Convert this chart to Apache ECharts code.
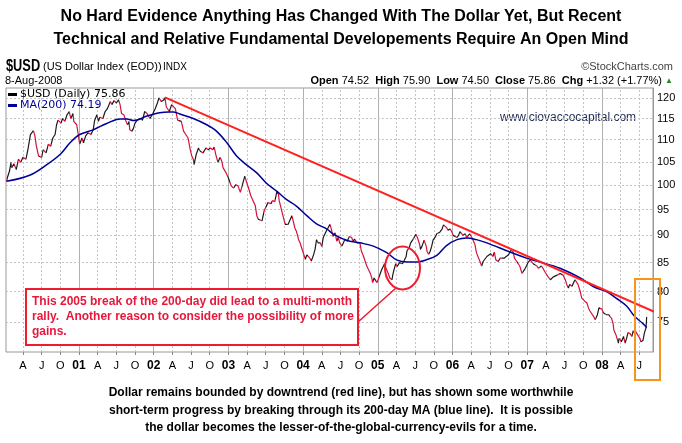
<!DOCTYPE html>
<html>
<head>
<meta charset="utf-8">
<script src="https://cdn.jsdelivr.net/npm/echarts@6/dist/echarts.min.js"></script>
<style>
  html, body { margin: 0; padding: 0; background: #fff; }
  #main { width: 682px; height: 443px; }
</style>
</head>
<body>
<div id="main"></div>
<script>
// $USD daily close (dates as decimal years)
const usdDates = [
  2000.03, 2000.04, 2000.07, 2000.09, 2000.10, 2000.13, 2000.16, 2000.19, 2000.22, 2000.25,
  2000.29, 2000.32, 2000.35, 2000.39, 2000.41, 2000.43, 2000.46, 2000.48, 2000.50, 2000.52,
  2000.56, 2000.59, 2000.62, 2000.65, 2000.68, 2000.70, 2000.72, 2000.76, 2000.78, 2000.81,
  2000.84, 2000.87, 2000.89, 2000.92, 2000.93, 2000.97, 2000.99, 2001.01, 2001.04, 2001.06,
  2001.09, 2001.12, 2001.16, 2001.19, 2001.21, 2001.24, 2001.26, 2001.28, 2001.32, 2001.35,
  2001.38, 2001.42, 2001.44, 2001.47, 2001.50, 2001.53, 2001.55, 2001.57, 2001.60, 2001.63,
  2001.65, 2001.67, 2001.68, 2001.71, 2001.73, 2001.75, 2001.78, 2001.82, 2001.85, 2001.88,
  2001.91, 2001.95, 2001.99, 2002.02, 2002.05, 2002.07, 2002.10, 2002.13, 2002.15, 2002.17,
  2002.21, 2002.24, 2002.29, 2002.32, 2002.34, 2002.37, 2002.40, 2002.43, 2002.46, 2002.49,
  2002.51, 2002.53, 2002.54, 2002.57, 2002.60, 2002.62, 2002.64, 2002.66, 2002.70, 2002.73,
  2002.76, 2002.79, 2002.81, 2002.83, 2002.86, 2002.89, 2002.91, 2002.93, 2002.97, 2003.00,
  2003.02, 2003.04, 2003.07, 2003.10, 2003.13, 2003.16, 2003.18, 2003.20, 2003.22, 2003.24,
  2003.27, 2003.30, 2003.33, 2003.36, 2003.38, 2003.40, 2003.42, 2003.45, 2003.48, 2003.50,
  2003.53, 2003.57, 2003.59, 2003.62, 2003.65, 2003.67, 2003.68, 2003.70, 2003.73, 2003.76,
  2003.78, 2003.80, 2003.82, 2003.85, 2003.87, 2003.89, 2003.91, 2003.94, 2003.96, 2003.98,
  2004.00, 2004.03, 2004.05, 2004.07, 2004.09, 2004.11, 2004.14, 2004.16, 2004.18, 2004.20,
  2004.23, 2004.25, 2004.27, 2004.29, 2004.32, 2004.34, 2004.36, 2004.38, 2004.40, 2004.43,
  2004.45, 2004.47, 2004.49, 2004.52, 2004.54, 2004.56, 2004.59, 2004.62, 2004.65, 2004.67,
  2004.69, 2004.72, 2004.74, 2004.76, 2004.78, 2004.81, 2004.83, 2004.85, 2004.87, 2004.90,
  2004.92, 2004.93, 2004.95, 2004.97, 2004.99, 2005.01, 2005.02, 2005.05, 2005.07, 2005.09,
  2005.10, 2005.12, 2005.14, 2005.16, 2005.19, 2005.20, 2005.22, 2005.24, 2005.26, 2005.29,
  2005.31, 2005.33, 2005.35, 2005.38, 2005.39, 2005.42, 2005.44, 2005.47, 2005.49, 2005.51,
  2005.53, 2005.56, 2005.57, 2005.59, 2005.62, 2005.65, 2005.66, 2005.68, 2005.70, 2005.72,
  2005.74, 2005.77, 2005.79, 2005.81, 2005.83, 2005.86, 2005.88, 2005.90, 2005.92, 2005.94,
  2005.97, 2005.99, 2006.01, 2006.03, 2006.06, 2006.08, 2006.10, 2006.12, 2006.14, 2006.17,
  2006.19, 2006.21, 2006.23, 2006.26, 2006.28, 2006.30, 2006.32, 2006.35, 2006.37, 2006.39,
  2006.41, 2006.43, 2006.46, 2006.48, 2006.51, 2006.54, 2006.56, 2006.58, 2006.61, 2006.64,
  2006.66, 2006.69, 2006.72, 2006.75, 2006.78, 2006.81, 2006.83, 2006.86, 2006.88, 2006.90,
  2006.93, 2006.95, 2006.97, 2006.99, 2007.01, 2007.04, 2007.06, 2007.08, 2007.10, 2007.13,
  2007.15, 2007.17, 2007.19, 2007.22, 2007.24, 2007.26, 2007.28, 2007.31, 2007.33, 2007.35,
  2007.37, 2007.40, 2007.42, 2007.44, 2007.46, 2007.48, 2007.51, 2007.53, 2007.55, 2007.57,
  2007.60, 2007.62, 2007.64, 2007.66, 2007.68, 2007.71, 2007.73, 2007.75, 2007.77, 2007.80,
  2007.82, 2007.84, 2007.86, 2007.89, 2007.91, 2007.92, 2007.94, 2007.96, 2007.98, 2008.00,
  2008.02, 2008.04, 2008.06, 2008.09, 2008.11, 2008.13, 2008.15, 2008.16, 2008.19, 2008.22,
  2008.23, 2008.26, 2008.29, 2008.31, 2008.33, 2008.35, 2008.38, 2008.40, 2008.42, 2008.44,
  2008.45, 2008.47, 2008.51, 2008.52, 2008.55, 2008.57, 2008.59, 2008.60
];
const usdClose = [
  100.8, 101.5, 103.0, 104.9, 103.7, 104.6, 103.3, 105.6, 104.9, 106.0,
  105.6, 108.1, 111.2, 112.1, 110.9, 108.5, 106.3, 106.7, 106.0, 107.7,
  107.0, 109.0, 108.5, 110.4, 111.2, 113.5, 114.6, 113.9, 115.0, 114.3,
  115.9, 116.7, 115.0, 116.2, 114.3, 113.5, 111.2, 109.0, 110.4, 109.3,
  110.9, 111.6, 111.2, 112.3, 114.6, 115.9, 114.3, 115.3, 115.0, 116.7,
  117.4, 119.2, 118.4, 119.4, 118.8, 119.6, 118.4, 116.2, 115.9, 114.3,
  113.5, 114.3, 112.3, 112.0, 112.7, 113.9, 114.6, 115.0, 114.6, 116.7,
  116.2, 115.0, 116.2, 117.4, 118.8, 120.1, 119.2, 119.5, 120.1, 117.8,
  116.7, 118.4, 117.4, 114.6, 114.3, 114.3, 112.0, 111.2, 110.4, 107.7,
  106.3, 105.6, 104.4, 106.7, 108.1, 107.4, 107.7, 107.0, 108.1, 107.7,
  108.1, 107.7, 108.3, 106.7, 104.9, 106.0, 105.2, 103.7, 102.6, 101.5,
  101.9, 99.8, 99.4, 100.1, 99.8, 98.5, 98.1, 100.8, 101.9, 100.8,
  99.4, 97.8, 96.8, 95.8, 93.8, 93.1, 93.3, 92.8, 94.8, 94.5,
  96.4, 96.2, 96.8, 96.6, 98.7, 98.1, 96.8, 96.4, 93.8, 92.1,
  92.3, 92.1, 92.8, 93.8, 93.6, 91.4, 90.8, 89.2, 88.6, 87.7,
  87.4, 85.6, 86.4, 86.7, 85.8, 85.3, 86.4, 87.4, 89.2, 88.6,
  88.6, 87.9, 89.6, 89.8, 91.1, 91.0, 92.1, 91.1, 89.8, 90.5,
  88.9, 89.6, 88.6, 88.0, 88.6, 89.3, 88.9, 89.8, 89.6, 88.9,
  89.3, 88.6, 88.9, 88.6, 87.1, 86.1, 85.3, 84.5, 83.9, 83.1,
  82.3, 81.5, 82.3, 82.6, 81.5, 81.3, 82.6, 83.7, 83.9, 84.8,
  84.3, 83.7, 83.1, 82.3, 82.0, 82.8, 83.9, 84.8, 84.3, 85.0,
  85.3, 84.8, 85.3, 86.1, 87.1, 87.7, 88.6, 89.2, 89.0, 90.2,
  89.6, 88.3, 87.4, 87.9, 89.1, 87.9, 87.0, 86.5, 87.0, 87.9,
  89.1, 89.7, 90.3, 90.0, 90.6, 91.2, 92.0, 91.8, 91.5, 91.0,
  91.2, 90.7, 90.0, 90.3, 89.6, 90.0, 90.7, 90.7, 90.0, 90.3,
  89.6, 89.3, 90.3, 89.6, 89.3, 88.3, 86.8, 85.8, 85.1, 84.4,
  85.2, 85.2, 86.1, 86.2, 86.6, 86.1, 86.9, 85.5, 85.2, 85.8,
  85.5, 85.8, 86.1, 86.4, 87.2, 87.0, 85.8, 85.2, 85.4, 84.4,
  83.1, 82.8, 83.9, 84.4, 85.0, 85.5, 85.2, 84.8, 85.0, 84.4,
  84.0, 83.8, 84.4, 83.8, 83.3, 83.0, 82.5, 82.0, 82.2, 82.5,
  82.7, 82.8, 82.5, 83.1, 83.4, 82.8, 82.0, 81.2, 80.6, 81.2,
  80.9, 81.5, 82.0, 81.7, 81.2, 80.0, 78.9, 78.6, 78.4, 78.1,
  77.3, 76.8, 76.6, 75.9, 75.4, 75.1, 76.2, 77.3, 77.6, 77.1,
  76.5, 76.7, 76.2, 76.2, 76.5, 75.6, 74.8, 73.8, 73.0, 71.8,
  72.5, 72.0, 72.8, 71.8, 72.5, 73.4, 73.2, 72.8, 73.7, 73.2,
  73.7, 73.2, 72.5, 72.0, 72.2, 73.4, 74.1, 75.86
];

// 200-day moving average
const maDates = [
  2000.03, 2000.34, 2000.57, 2000.75, 2000.88, 2001.01, 2001.19, 2001.37, 2001.55, 2001.64,
  2001.73, 2001.91, 2002.08, 2002.20, 2002.26, 2002.35, 2002.53, 2002.71, 2002.84, 2002.98,
  2003.11, 2003.24, 2003.38, 2003.51, 2003.65, 2003.78, 2003.91, 2004.05, 2004.18, 2004.32,
  2004.40, 2004.58, 2004.76, 2004.94, 2005.12, 2005.25, 2005.39, 2005.52, 2005.65, 2005.79,
  2005.92, 2006.06, 2006.19, 2006.32, 2006.46, 2006.77, 2006.99, 2007.17, 2007.44, 2007.71,
  2007.89, 2008.06, 2008.19, 2008.33, 2008.44, 2008.55, 2008.60
];
const maValues = [
  100.8, 102.1, 104.4, 106.7, 109.3, 111.2, 112.3, 113.8, 114.9, 114.9,
  114.5, 115.6, 116.4, 116.6, 116.6, 116.1, 115.0, 113.5, 112.0, 109.3,
  106.3, 104.4, 102.6, 100.4, 98.7, 97.0, 95.7, 93.8, 92.2, 91.2,
  90.3, 89.1, 88.6, 88.0, 86.8, 85.5, 85.1, 85.1, 85.5, 86.3,
  88.1, 89.2, 89.5, 89.2, 88.6, 86.9, 85.8, 85.1, 84.0, 82.3,
  80.8, 80.0, 78.9, 77.6, 75.9, 74.8, 74.19
];

// hand drawn downtrend line (start, end)
const trendDates = [2002.15, 2008.755];
const trendValues = [120.2, 76.4];

const yTicks = [75, 80, 85, 90, 95, 100, 105, 110, 115, 120];
const quarterTicks = [];
for (let y = 2000; y <= 2008; y++) {
  [0, 0.25, 0.5, 0.75].forEach(q => {
    const v = y + q;
    if (v > 2000.1 && v < 2008.6) quarterTicks.push(v);
  });
}
const yearTicks = [2001, 2002, 2003, 2004, 2005, 2006, 2007, 2008];

const usdData = usdDates.map((d, i) => [d, usdClose[i]]);
const maData = maDates.map((d, i) => [d, maValues[i]]);
const trendData = trendDates.map((d, i) => [d, trendValues[i]]);

// up moves black, down moves red, like the StockCharts line
const upDownPieces = [];
for (let i = 1; i < usdDates.length; i++) {
  upDownPieces.push({
    gte: usdDates[i - 1], lt: usdDates[i] + (i === usdDates.length - 1 ? 0.01 : 0),
    color: usdClose[i] >= usdClose[i - 1] ? '#1a1a1a' : '#d3123c'
  });
}

const dotted = { color: '#c4c4c4', type: [2, 2], width: 1 };
const gridLines = []
  .concat(quarterTicks.filter(v => yearTicks.indexOf(v) < 0).map(v => ({ xAxis: v, lineStyle: dotted })))
  .concat(yearTicks.map(v => ({ xAxis: v, lineStyle: { color: '#b0b0b0', type: 'solid', width: 1 } })))
  .concat(yTicks.map(v => ({ yAxis: v, lineStyle: dotted })));

const chart = echarts.init(document.getElementById('main'));
const FONT = '"Liberation Sans", Arial, sans-serif';

chart.setOption({
  animation: false,
  backgroundColor: '#fff',
  grid: {
    left: 6, top: 88, width: 647, height: 264,
    containLabel: false, outerBoundsMode: 'none',
    show: true, borderColor: '#999', borderWidth: 1
  },
  visualMap: {
    show: false, type: 'piecewise', seriesIndex: 1, dimension: 0,
    pieces: upDownPieces, outOfRange: { color: '#d3123c' }
  },
  legend: {
    left: 8, top: 89, orient: 'vertical', itemGap: 0,
    itemWidth: 9, itemHeight: 3, icon: 'rect', padding: 0,
    textStyle: { fontFamily: '"DejaVu Sans", sans-serif', fontSize: 11, color: '#000', padding: [0, 0, 0, -2] },
    data: [
      { name: '$USD (Daily)', itemStyle: { color: '#000' } },
      { name: 'MA(200)', itemStyle: { color: '#000099' }, textStyle: { color: '#000099' } }
    ],
    formatter: function (n) {
      if (n === '$USD (Daily)') return n + ' ' + usdClose[usdClose.length - 1].toFixed(2);
      return n + ' ' + maValues[maValues.length - 1].toFixed(2);
    }
  },
  xAxis: {
    type: 'value', min: 2000.023, max: 2008.684,
    axisLine: { show: false },
    axisTick: { show: true, customValues: quarterTicks, length: 3, lineStyle: { color: '#888' } },
    axisLabel: {
      customValues: quarterTicks, margin: 8, color: '#000',
      fontFamily: FONT, fontSize: 11,
      formatter: function (v) {
        const q = Math.round(v * 4) % 4;
        if (q === 0) return '{b|' + String(Math.round(v)).slice(2) + '}';
        return ['', 'A', 'J', 'O'][q];
      },
      rich: { b: { fontWeight: 'bold', fontSize: 12, fontFamily: FONT, color: '#000' } }
    },
    splitLine: { show: false }
  },
  yAxis: {
    type: 'log', logBase: 10, min: 70.47, max: 122.6, position: 'right',
    axisLine: { show: true, lineStyle: { color: '#999' } },
    axisTick: { show: false, customValues: yTicks },
    axisLabel: { customValues: yTicks, margin: 4, color: '#000', fontFamily: FONT, fontSize: 11 },
    splitLine: { show: false }
  },
  series: [{
    name: 'grid', type: 'line', data: [], silent: true,
    markLine: { silent: true, symbol: 'none', z: 1, animation: false, label: { show: false }, data: gridLines }
  }, {
    name: '$USD (Daily)', type: 'line', data: usdData, showSymbol: false,
    lineStyle: { width: 1.2 }, itemStyle: { color: '#000' }, z: 3
  }, {
    name: 'MA(200)', type: 'line', data: maData, showSymbol: false, smooth: 0.35,
    lineStyle: { color: '#000099', width: 1.5 }, itemStyle: { color: '#000099' }, z: 4
  }, {
    name: 'trend', type: 'line', data: trendData, showSymbol: false, clip: false,
    lineStyle: { color: '#ff2020', width: 2 }, z: 5
  }],
  graphic: [
    { type: 'text', x: 341, y: 17, style: { text: 'No Hard Evidence Anything Has Changed With The Dollar Yet, But Recent', font: 'bold 16px ' + FONT, fill: '#000', textAlign: 'center', textVerticalAlign: 'middle' } },
    { type: 'text', x: 341, y: 40, style: { text: 'Technical and Relative Fundamental Developements Require An Open Mind', font: 'bold 16px ' + FONT, fill: '#000', textAlign: 'center', textVerticalAlign: 'middle' } },
    { type: 'text', x: 6, y: 67, scaleX: 0.8, style: { text: '$USD', font: 'bold 16px ' + FONT, fill: '#000', textVerticalAlign: 'middle' } },
    { type: 'text', x: 43, y: 67, style: { text: '(US Dollar Index (EOD))', font: '11px ' + FONT, fill: '#000', textVerticalAlign: 'middle' } },
    { type: 'text', x: 163, y: 67, style: { text: 'INDX', font: '10px ' + FONT, fill: '#000', textVerticalAlign: 'middle' } },
    { type: 'text', x: 5, y: 81, style: { text: '8-Aug-2008', font: '11px ' + FONT, fill: '#000', textVerticalAlign: 'middle' } },
    { type: 'text', x: 673, y: 67, style: { text: '\u00a9StockCharts.com', font: '11px ' + FONT, fill: '#444', textAlign: 'right', textVerticalAlign: 'middle' } },
    { type: 'text', x: 673, y: 81, style: {
      text: '{b|Open} 74.52  {b|High} 75.90  {b|Low} 74.50  {b|Close} 75.86  {b|Chg} +1.32 (+1.77%) {g|\u25b2}',
      font: '11px ' + FONT, fill: '#000', textAlign: 'right', textVerticalAlign: 'middle',
      rich: { b: { font: 'bold 11px ' + FONT, fill: '#000' }, g: { font: '8px ' + FONT, fill: '#2a8a2a' } } } },
    { type: 'text', x: 500, y: 118, style: { text: 'www.ciovaccocapital.com', font: '12px ' + FONT, fill: '#1c2a55', textVerticalAlign: 'middle' } },
    // annotation: circle, pointer and text box
    { type: 'ellipse', shape: { cx: 402.5, cy: 268, rx: 17.5, ry: 21.5 }, style: { fill: 'none', stroke: '#ee1c2e', lineWidth: 2 }, z: 10 },
    { type: 'line', shape: { x1: 358, y1: 322, x2: 396, y2: 288 }, style: { stroke: '#ee1c2e', lineWidth: 1.5 }, z: 10 },
    { type: 'rect', shape: { x: 26, y: 289, width: 332, height: 56 }, style: { fill: '#fff', stroke: '#ee1c2e', lineWidth: 2 }, z: 10 },
    { type: 'text', x: 32, y: 294, z: 11, style: {
      text: 'This 2005 break of the 200-day did lead to a multi-month\nrally.  Another reason to consider the possibility of more\ngains.',
      font: 'bold 12px ' + FONT, fill: '#e8173c', lineHeight: 15, textVerticalAlign: 'top' } },
    { type: 'rect', shape: { x: 635, y: 279, width: 25, height: 101 }, style: { fill: 'none', stroke: '#f7941d', lineWidth: 2 }, z: 10 },
    { type: 'text', x: 341, y: 384, style: {
      text: 'Dollar remains bounded by downtrend (red line), but has shown some worthwhile\nshort-term progress by breaking through its 200-day MA (blue line).  It is possible\nthe dollar becomes the lesser-of-the-global-currency-evils for a time.',
      font: 'bold 12px ' + FONT, fill: '#000', textAlign: 'center', lineHeight: 17.5, textVerticalAlign: 'top' } }
  ]
});
</script>
</body>
</html>
